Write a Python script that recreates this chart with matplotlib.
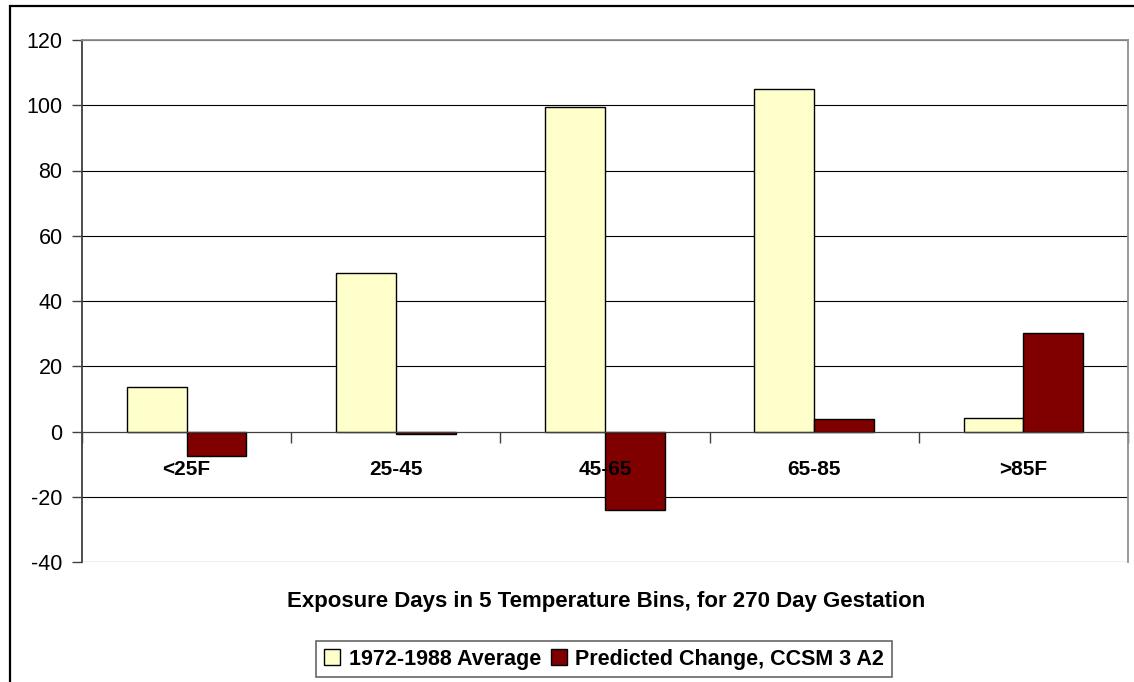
import numpy as np
import matplotlib.pyplot as plt
from matplotlib.patches import Rectangle

categories = ["<25F", "25-45", "45-65", "65-85", ">85F"]
average_1972_1988 = [13.6, 48.6, 99.5, 105.0, 4.2]
predicted_change = [-7.4, -0.7, -24.1, 3.8, 30.1]
series_names = ["1972-1988 Average", "Predicted Change, CCSM 3 A2"]
y_ticks = [-40, -20, 0, 20, 40, 60, 80, 100, 120]
x_title = "Exposure Days in 5 Temperature Bins, for 270 Day Gestation"

FIGSIZE = (11.34, 6.82)
DPI = 100

plt.rc("font", family="Liberation Sans")


def create_plot():
    fig = plt.figure(figsize=FIGSIZE, dpi=DPI)
    ax = fig.add_axes([82 / 1134, 1 - 562 / 682, 1046 / 1134, 522 / 682])

    # outer chart frame (runs off the right and bottom edges)
    fig.patches.append(Rectangle((10 / 1134, -0.05), 1.2, 1 - 6 / 682 + 0.05,
                                 transform=fig.transFigure, fill=False,
                                 edgecolor="black", linewidth=1.6))

    x = np.arange(len(categories))
    width = 1 / 3.5  # Excel gap width 150%
    b1 = ax.bar(x + 0.5 - width / 2, average_1972_1988, width, color="#FFFFCC",
                edgecolor="black", linewidth=1.0, zorder=3)
    b2 = ax.bar(x + 0.5 + width / 2, predicted_change, width, color="#800000",
                edgecolor="black", linewidth=1.0, zorder=3)

    ax.set_xlim(0, len(categories))
    ax.set_ylim(-40, 120)
    ax.set_yticks(y_ticks)
    ax.set_yticklabels([str(v) for v in y_ticks], fontsize=15.5)
    ax.tick_params(axis="y", direction="out", length=7, width=1, pad=7, color="#404040")

    # category axis crosses at zero
    ax.spines["bottom"].set_position(("data", 0))
    ax.spines["bottom"].set_color("#404040")
    ax.spines["bottom"].set_zorder(4)
    ax.set_xticks(np.arange(len(categories) + 1))
    ax.set_xticklabels([])
    ax.tick_params(axis="x", direction="out", length=8, width=1, color="#404040")

    # category labels sit on top of the bars, as in the original
    for xi, label in zip(x + 0.5, categories):
        ax.annotate(label, (xi, 0), xytext=(0, -27.5), textcoords="offset points",
                    ha="center", va="center", fontsize=15, fontweight="bold",
                    zorder=6, annotation_clip=False)

    ax.spines["left"].set_color("#404040")
    ax.spines["left"].set_linewidth(1.3)
    for s in ["top", "right"]:
        ax.spines[s].set_color("#909090")
        ax.spines[s].set_linewidth(1.3)

    ax.grid(axis="y", color="black", linewidth=0.8, zorder=0)
    ax.set_axisbelow(True)

    fig.text(606 / 1134, 1 - 601 / 682, x_title, ha="center", va="center",
             fontsize=16, fontweight="bold")

    leg = fig.legend([b1, b2], series_names, loc="center",
                     bbox_to_anchor=(604 / 1134, 1 - 659 / 682), ncol=2,
                     prop={"size": 15.5, "weight": "bold"}, frameon=True,
                     fancybox=False, edgecolor="#404040", handlelength=0.75,
                     handleheight=0.75, handletextpad=0.4, columnspacing=0.45,
                     borderpad=0.35, borderaxespad=0)
    leg.get_frame().set_linewidth(1.2)

    return fig


def main():
    fig = create_plot()
    fig.savefig("out.png", dpi=DPI)


if __name__ == "__main__":
    main()
